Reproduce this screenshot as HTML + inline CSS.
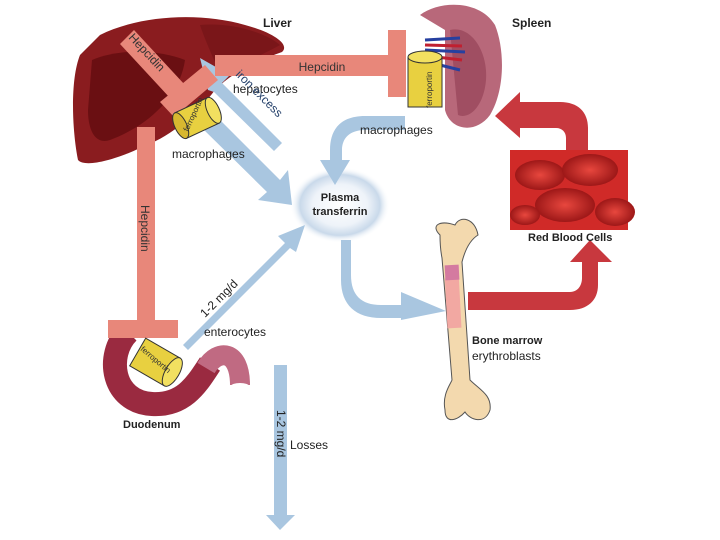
<!DOCTYPE html>
<html><head><meta charset="utf-8"><style>
html,body{margin:0;padding:0;background:#fff;}
svg{display:block;font-family:"Liberation Sans",sans-serif;}
</style></head><body>
<svg width="720" height="540" viewBox="0 0 720 540" xmlns="http://www.w3.org/2000/svg">
<defs>
<radialGradient id="pt" cx="50%" cy="50%" r="50%">
<stop offset="0" stop-color="#fff"/><stop offset="0.55" stop-color="#eef3f9"/><stop offset="0.8" stop-color="#c9d9ea"/><stop offset="1" stop-color="#fff" stop-opacity="0"/>
</radialGradient>
<radialGradient id="rbc" cx="50%" cy="50%" r="60%">
<stop offset="0" stop-color="#e8473e"/><stop offset="1" stop-color="#8e0e10"/>
</radialGradient>
</defs>

<!-- Liver -->
<path d="M100,35 C140,15 200,12 245,25 C275,33 290,45 282,52 C260,60 235,70 215,90 C200,110 175,135 140,148 C115,160 85,168 78,160 C72,130 70,80 80,55 Z" fill="#8a1c1f"/>
<path d="M92,60 C120,48 160,50 185,60 C180,95 150,125 110,140 C95,145 88,130 88,110 Z" fill="#6a0f12"/>
<path d="M200,25 C230,22 265,32 280,45 C262,55 240,64 222,78 C212,55 205,40 200,25 Z" fill="#7a1619"/>

<!-- Spleen -->
<path d="M420,15 C440,0 480,0 495,25 C505,50 505,90 490,115 C475,135 450,130 445,110 L445,30 Z" fill="#b8687a"/>
<path d="M450,30 C470,25 488,50 486,80 C484,105 470,120 458,115 Z" fill="#a04e62"/>
<path d="M425,40 L460,38 M425,50 L465,52 M428,62 L460,70" stroke="#2640a0" stroke-width="3"/>
<path d="M425,45 L462,46 M428,56 L462,60" stroke="#c02030" stroke-width="3"/>

<!-- Duodenum -->
<path d="M128,332 C105,355 112,402 152,404 C185,406 198,382 210,364" fill="none" stroke="#9a2a40" stroke-width="24"/>
<path d="M206,368 C218,348 240,350 240,385" fill="none" stroke="#c06a82" stroke-width="20"/>
<ellipse cx="240" cy="386" rx="9" ry="3" fill="#fff"/>

<!-- Bone -->
<path d="M440,235 C430,225 440,220 455,225 C460,215 475,218 478,235 C470,240 465,250 462,262 L470,380 C480,390 492,395 490,410 C485,425 470,420 465,412 C458,420 445,425 445,410 C442,395 450,385 452,380 L442,258 C440,248 440,240 440,235 Z" fill="#f3d9ae" stroke="#555" stroke-width="1"/>
<rect x="446" y="278" width="14" height="50" fill="#f2a8a2" transform="rotate(-3 453 300)"/>
<rect x="445" y="265" width="14" height="15" fill="#d47aa0" transform="rotate(-3 452 272)"/>

<!-- RBC image -->
<rect x="510" y="150" width="118" height="80" fill="#d02a28"/>
<ellipse cx="540" cy="175" rx="25" ry="15" fill="url(#rbc)"/>
<ellipse cx="590" cy="170" rx="28" ry="16" fill="url(#rbc)"/>
<ellipse cx="565" cy="205" rx="30" ry="17" fill="url(#rbc)"/>
<ellipse cx="615" cy="212" rx="20" ry="14" fill="url(#rbc)"/>
<ellipse cx="525" cy="215" rx="15" ry="10" fill="url(#rbc)"/>

<!-- Plasma transferrin glow -->
<ellipse cx="340" cy="205" rx="50" ry="38" fill="url(#pt)"/>

<!-- Blue arrows -->
<g fill="#a9c6e0">
<path d="M215,115 L280,180 L288,170 L292,205 L258,200 L267,192 L202,128 Z"/>
<path d="M282,143 L222,83 L230,75 L200,58 L208,90 L214,92 L274,151 Z"/>
<path d="M405,116 L365,116 C340,116 330,130 330,150 L330,160 L320,160 L335,185 L350,160 L342,160 L342,150 C342,138 350,130 365,130 L405,130 Z"/>
<path d="M183,345 L285,243 L278,236 L305,225 L296,252 L290,248 L188,350 Z"/>
<path d="M345,240 L345,275 C345,295 355,305 375,305 L395,305 L395,292 L440,311 L395,320 L395,318 L375,318 C350,318 335,305 335,280 L335,240 Z" transform="translate(6,0)"/>
<rect x="274" y="365" width="13" height="150"/>
<path d="M266,515 L295,515 L280,530 Z"/>
</g>

<!-- Red arrows -->
<g fill="#c8383e">
<path d="M468,292 L570,292 C578,292 582,285 582,278 L582,262 L570,262 L590,240 L612,262 L598,262 L598,285 C598,300 588,310 570,310 L468,310 Z"/>
<path d="M588,150 L588,128 C588,112 578,102 560,102 L520,102 L520,92 L495,116 L520,138 L520,128 L556,128 C562,128 566,132 566,138 L566,150 Z"/>
</g>

<!-- Hepcidin bars -->
<g fill="#e8877a">
<rect x="215" y="55" width="180" height="21"/>
<rect x="388" y="30" width="18" height="67"/>
<rect x="137" y="127" width="18" height="195"/>
<rect x="108" y="320" width="70" height="18"/>
<path d="M134,30 L185,85 L170,98 L120,44 Z"/>
<path d="M160,102 L205,65 L218,80 L174,117 Z"/>
</g>
<text x="322" y="71" font-size="12" fill="#333" text-anchor="middle">Hepcidin</text>
<text transform="translate(128,38) rotate(47)" font-size="12" fill="#333">Hepcidin</text>
<text transform="translate(141,205) rotate(90)" font-size="12" fill="#333">Hepcidin</text>

<!-- Ferroportin cylinders -->
<g stroke="#333" stroke-width="1">
<g transform="translate(197,118) rotate(-25)">
<rect x="-18" y="-14" width="36" height="28" fill="#e8d040"/>
<ellipse cx="18" cy="0" rx="6" ry="14" fill="#f2e060"/>
<ellipse cx="-18" cy="0" rx="6" ry="14" fill="#d8b830"/>
</g>
<g transform="translate(425,82)">
<rect x="-17" y="-25" width="34" height="50" fill="#e8d040"/>
<ellipse cx="0" cy="-25" rx="17" ry="6" fill="#f2e060"/>
</g>
<g transform="translate(155,362) rotate(30)">
<rect x="-20" y="-16" width="40" height="32" fill="#e8d040"/>
<ellipse cx="20" cy="0" rx="7" ry="16" fill="#f2e060"/>
</g>
</g>
<text transform="translate(188,132) rotate(-65)" font-size="8" fill="#333">ferroportin</text>
<text transform="translate(432,108) rotate(-90)" font-size="8" fill="#333">ferroportin</text>
<text transform="translate(140,350) rotate(40)" font-size="8" fill="#333">ferroportin</text>

<!-- labels -->
<g fill="#222" font-size="12">
<text x="263" y="27" font-weight="bold">Liver</text>
<text x="512" y="27" font-weight="bold">Spleen</text>
<text x="233" y="93">hepatocytes</text>
<text x="172" y="158">macrophages</text>
<text x="360" y="134">macrophages</text>
<text x="340" y="201" font-weight="bold" text-anchor="middle" font-size="11">Plasma</text>
<text x="340" y="215" font-weight="bold" text-anchor="middle" font-size="11">transferrin</text>
<text x="528" y="241" font-weight="bold" font-size="11">Red Blood Cells</text>
<text x="472" y="344" font-weight="bold" font-size="11">Bone marrow</text>
<text x="472" y="360">erythroblasts</text>
<text x="204" y="336">enterocytes</text>
<text x="123" y="428" font-weight="bold" font-size="11">Duodenum</text>
<text x="290" y="449">Losses</text>
<text transform="translate(235,75) rotate(45)" fill="#24406a">iron excess</text>
<text transform="translate(205,318) rotate(-45)">1-2 mg/d</text>
<text transform="translate(277,410) rotate(90)">1-2 mg/d</text>
</g>
</svg>
</body></html>
